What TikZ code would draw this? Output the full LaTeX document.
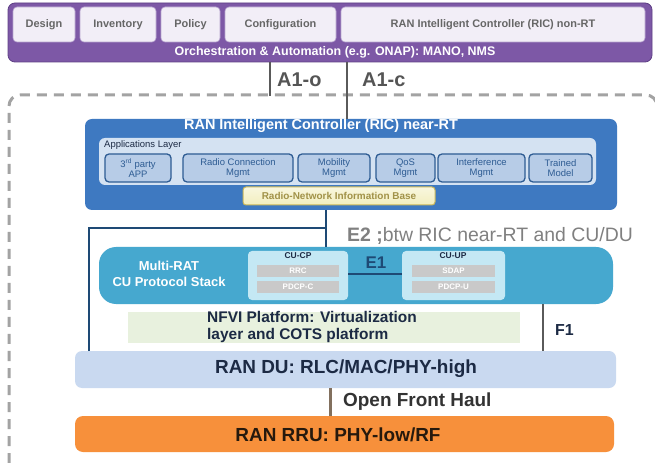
\documentclass[tikz,border=0pt]{standalone}
\usepackage{fontspec}
\setmainfont{Liberation Sans}
\usetikzlibrary{calc}
\definecolor{orchpurple}{HTML}{7D58A6}
\definecolor{orchedge}{HTML}{5E3F85}
\definecolor{lavender}{HTML}{F2EEF7}
\definecolor{lavedge}{HTML}{B8A5CF}
\definecolor{ricblue}{HTML}{3E79C1}
\definecolor{applayer}{HTML}{D4E2F2}
\definecolor{appfill}{HTML}{B7CCE7}
\definecolor{appedge}{HTML}{2E5C93}
\definecolor{ribyellow}{HTML}{F2EEBE}
\definecolor{ribedge}{HTML}{C9B75A}
\definecolor{cuteal}{HTML}{46A8CF}
\definecolor{cupane}{HTML}{C4E8F4}
\definecolor{cugray}{HTML}{C9C9C9}
\definecolor{nfvigreen}{HTML}{E8F1DE}
\definecolor{dublue}{HTML}{C9D9F0}
\definecolor{rruorange}{HTML}{F7903B}
\definecolor{linknavy}{HTML}{1E4A75}
\definecolor{linkgray}{HTML}{5A5A5A}
\definecolor{labelgray}{HTML}{555555}
\definecolor{tabgray}{HTML}{666666}
\definecolor{dashgray}{HTML}{A3A3A3}
\definecolor{textnavy}{HTML}{1C2A44}
\tikzset{
  px/.style={inner sep=0pt, outer sep=0pt, anchor=north west},
  toptab/.style={px, fill=lavender, draw=lavedge, line width=0.6bp, rounded corners=4bp,
    text=tabgray, font=\fontsize{11}{13}\selectfont\bfseries},
  appbox/.style={px, fill=appfill, draw=appedge, line width=1.3bp, rounded corners=4bp,
    align=center, text=appedge, font=\fontsize{9.5}{10.5}\selectfont},
  cupanel/.style={px, fill=cupane, rounded corners=4bp},
  cuslot/.style={px, fill=cugray, text=white, font=\fontsize{8}{9}\selectfont\bfseries},
  link/.style={line width=2.6bp, linknavy},
  graylink/.style={line width=2.6bp, linkgray},
  iflabel/.style={font=\fontsize{20}{22}\selectfont\bfseries, text=labelgray, anchor=west, inner sep=0pt}
}
\begin{document}
\begin{tikzpicture}[x=1bp,y=-1bp]
\useasboundingbox[fill=white] (0,0) rectangle (655,463);

% outer dashed frame of the RAN side
\draw[dashgray, line width=3bp, dash pattern=on 10bp off 7bp]
  (9,463) -- (9,106) arc[start angle=180, end angle=90, radius=11bp] -- (646,95)
  arc[start angle=90, end angle=0, radius=11bp] -- (657,463);

% orchestration and automation layer
\node[px, fill=orchpurple, draw=orchedge, line width=0.8bp, rounded corners=7bp,
  minimum width=644bp, minimum height=59bp] (orch) at (8,3) {};
\node[toptab, minimum width=62bp, minimum height=35bp] (design) at (13,7) {Design};
\node[toptab, minimum width=76bp, minimum height=35bp] (inventory) at (80,7) {Inventory};
\node[toptab, minimum width=59bp, minimum height=35bp] (policy) at (161,7) {Policy};
\node[toptab, minimum width=111bp, minimum height=35bp] (config) at (225,7) {Configuration};
\node[toptab, minimum width=304bp, minimum height=35bp] (ricnrt) at (341,7) {RAN Intelligent Controller (RIC) non-RT};
\node[text=white, font=\fontsize{12.5}{14}\selectfont\bfseries, inner sep=0pt] (orchtxt) at (335,52)
  {Orchestration \& Automation (e.g. ONAP): MANO, NMS};

% near-RT RIC
\node[px, fill=ricblue, rounded corners=7bp, minimum width=532bp, minimum height=91bp] (ric) at (85,119) {};
\node[text=white, font=\fontsize{14.5}{16}\selectfont\bfseries, inner sep=0pt] (rictitle) at (321,126)
  {RAN Intelligent Controller (RIC) near-RT};
\node[px, fill=applayer, rounded corners=6bp, minimum width=497bp, minimum height=47bp] (apps) at (99,138) {};
\node[anchor=west, inner sep=0pt, text=textnavy, font=\fontsize{9.5}{11}\selectfont] (appstxt) at (104,145)
  {Applications Layer};
\node[appbox, minimum width=66bp, minimum height=28bp] (app1) at (105,154) {3\textsuperscript{rd} party\\APP};
\node[appbox, minimum width=110bp, minimum height=28bp] (app2) at (183,154) {Radio Connection\\Mgmt};
\node[appbox, minimum width=72bp, minimum height=28bp] (app3) at (298,154) {Mobility\\Mgmt};
\node[appbox, minimum width=59bp, minimum height=28bp] (app4) at (376,154) {QoS\\Mgmt};
\node[appbox, minimum width=87bp, minimum height=28bp] (app5) at (438,154) {Interference\\Mgmt};
\node[appbox, minimum width=63bp, minimum height=28bp] (app6) at (529,154) {Trained\\Model};
\node[px, top color=ribyellow!50!white, bottom color=ribyellow, draw=ribedge, line width=1bp,
  rounded corners=3bp, minimum width=192bp, minimum height=18bp,
  text=ribedge!80!black, font=\fontsize{10}{11}\selectfont\bfseries] (rib) at (243,187)
  {Radio-Network Information Base};

% CU protocol stack
\node[px, fill=cuteal, rounded corners=17bp, minimum width=514bp, minimum height=57bp] (cu) at (99,247) {};
\node[align=center, text=white, font=\fontsize{13}{16}\selectfont\bfseries, inner sep=0pt] (cutxt) at (169,274)
  {Multi-RAT\\CU Protocol Stack};
\node[cupanel, minimum width=100bp, minimum height=49bp] (cucp) at (248,251) {};
\node[font=\fontsize{8.5}{9}\selectfont\bfseries, text=textnavy, inner sep=0pt] (cucptxt) at (298,256) {CU-CP};
\node[cuslot, minimum width=82bp, minimum height=12bp] (rrc) at (257,265) {RRC};
\node[cuslot, minimum width=82bp, minimum height=12bp] (pdcpc) at (257,281) {PDCP-C};
\node[cupanel, minimum width=103bp, minimum height=49bp] (cuup) at (402,251) {};
\node[font=\fontsize{8.5}{9}\selectfont\bfseries, text=textnavy, inner sep=0pt] (cuuptxt) at (453,256) {CU-UP};
\node[cuslot, minimum width=83bp, minimum height=12bp] (sdap) at (412,265) {SDAP};
\node[cuslot, minimum width=83bp, minimum height=12bp] (pdcpu) at (412,281) {PDCP-U};
\node[font=\fontsize{17}{19}\selectfont\bfseries, text=linknavy, inner sep=0pt] (e1) at (376,263) {E1};

% NFVI platform
\node[px, fill=nfvigreen, minimum width=392bp, minimum height=31bp] (nfvi) at (128,312) {};
\node[anchor=west, align=left, text=textnavy, font=\fontsize{15.5}{17}\selectfont\bfseries, inner sep=0pt]
  (nfvitxt) at (207,327) {NFVI Platform: Virtualization\\layer and COTS platform};

% distributed unit and radio unit
\node[px, fill=dublue, rounded corners=7bp, minimum width=541bp, minimum height=37bp] (du) at (75,351) {};
\node[text=textnavy, font=\fontsize{19}{21}\selectfont\bfseries, inner sep=0pt] (dutxt) at (346,369)
  {RAN DU: RLC/MAC/PHY-high};
\node[px, fill=rruorange, rounded corners=8bp, minimum width=539bp, minimum height=36bp] (rru) at (75,416) {};
\node[text=black!80!brown, font=\fontsize{19}{21}\selectfont\bfseries, inner sep=0pt] (rrutxt) at (338,435)
  {RAN RRU: PHY-low/RF};

% interface points
\coordinate (a1ox) at (270,0);
\coordinate (a1cx) at (347,0);
\coordinate (a1oend) at (270,96);
\coordinate (e2x) at (326,0);
\coordinate (e2branch) at (326,228);
\coordinate (e2left) at (89,228);
\coordinate (f1x) at (543,0);
\coordinate (fhx) at (330,0);

% A1 interfaces
\draw[graylink] (orch.south -| a1ox) -- (a1oend);
\draw[graylink] (orch.south -| a1cx) -- (ric.north -| a1cx);
\node[iflabel] (a1olbl) at (277,80) {A1-o};
\node[iflabel] (a1clbl) at (362,80) {A1-c};

% E2 interface to CU and DU
\draw[link] (ric.south -| e2x) -- (cu.north -| e2x);
\draw[link] (e2branch) -- (e2left) -- (du.north -| e2left);
\node[anchor=west, inner sep=0pt, text=black!50, font=\fontsize{19.5}{21}\selectfont] (e2lbl) at (347,236)
  {\textbf{E2 ;}btw RIC near-RT and CU/DU};

% E1 between CU-CP and CU-UP
\draw[link, line width=2bp] (cucp.east |- 0,274) -- (cuup.west |- 0,274);

% F1 between CU and DU
\draw[link, line width=2.4bp, linkgray] (cu.south -| f1x) -- (du.north -| f1x);
\node[anchor=west, inner sep=0pt, text=textnavy, font=\fontsize{16}{18}\selectfont\bfseries] (f1lbl) at (555,330) {F1};

% open fronthaul between DU and RRU
\draw[line width=3bp, brown!40!black!70] (du.south -| fhx) -- (rru.north -| fhx);
\node[anchor=west, inner sep=0pt, text=black!80, font=\fontsize{19}{21}\selectfont\bfseries] (fhlbl) at (343,402)
  {Open Front Haul};
\end{tikzpicture}
\end{document}
